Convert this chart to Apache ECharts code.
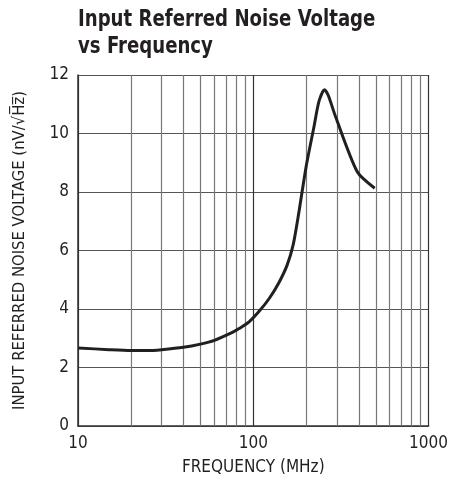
<!DOCTYPE html>
<html><head><meta charset="utf-8">
<script src="https://cdn.jsdelivr.net/npm/echarts@6/dist/echarts.min.js"></script>
<style>html,body{margin:0;padding:0;background:#fff}#c{width:451px;height:487px}</style>
</head><body><div id="c"></div>
<script>
const titleLines = ['Input Referred Noise Voltage', 'vs Frequency'];
const xName = 'FREQUENCY (MHz)';
const yName = 'INPUT REFERRED NOISE VOLTAGE (nV/\u221AH\u0305z\u0305)';
const freq = [10, 15, 20, 25, 30, 40, 50, 60, 76, 83, 95, 108, 123, 140, 156, 169, 182, 200, 222, 237, 255, 268, 295, 392, 493];
const noise = [2.67, 2.61, 2.58, 2.58, 2.61, 2.69, 2.80, 2.93, 3.20, 3.33, 3.57, 3.92, 4.35, 4.9, 5.5, 6.2, 7.3, 8.85, 10.23, 11.1, 11.5, 11.3, 10.57, 8.69, 8.13];
const minorGridX = [20, 30, 40, 50, 60, 70, 80, 90, 200, 300, 400, 500, 600, 700, 800, 900];
const yTicks = { min: 0, max: 12, interval: 2 };
const xRange = { min: 10, max: 1000 };

const FONT = '"DejaVu Sans Condensed", "Liberation Sans", sans-serif';
const chart = echarts.init(document.getElementById('c'), null, { renderer: 'canvas' });
chart.setOption({
  animation: false,
  backgroundColor: '#fff',
  graphic: [{
    type: 'text', x: 78, y: 7, scaleX: 0.876, scaleY: 1,
    style: {
      text: titleLines.join('\n'),
      fontFamily: FONT, fontWeight: 'bold', fontSize: 23, lineHeight: 27,
      fill: '#231f20', align: 'left', verticalAlign: 'top'
    }
  }],
  grid: { left: 78, right: 21, top: 75, bottom: 61, containLabel: false },
  xAxis: {
    type: 'log', logBase: 10, min: xRange.min, max: xRange.max,
    name: xName, nameLocation: 'middle', nameGap: 33,
    nameTextStyle: { fontFamily: FONT, fontSize: 17, color: '#231f20' },
    axisLine: { show: true, lineStyle: { color: '#333', width: 1.5 } },
    axisTick: { show: false },
    axisLabel: { fontFamily: FONT, fontSize: 17, color: '#231f20', margin: 9, formatter: v => String(Math.round(v)) },
    splitLine: { show: true, lineStyle: { color: '#333', width: 1.2 } }
  },
  yAxis: {
    type: 'value', min: yTicks.min, max: yTicks.max, interval: yTicks.interval,
    name: yName, nameLocation: 'middle', nameGap: 50, nameRotate: 90,
    nameTextStyle: { fontFamily: FONT, fontSize: 16.5, color: '#231f20' },
    axisLine: { show: true, lineStyle: { color: '#333', width: 1.5 } },
    axisTick: { show: false },
    axisLabel: { fontFamily: FONT, fontSize: 17, color: '#231f20', margin: 9 },
    splitLine: { show: true, lineStyle: { color: '#555', width: 1.2 } }
  },
  series: [{
    type: 'line',
    data: freq.map((f, i) => [f, noise[i]]),
    smooth: 0.25,
    symbol: 'none',
    lineStyle: { color: '#231f20', width: 3 },
    z: 5,
    markLine: {
      silent: true, symbol: 'none', label: { show: false },
      lineStyle: { color: '#777', width: 1.2, type: 'solid' },
      data: minorGridX.map(v => ({ xAxis: v }))
    }
  }]
});
</script></body></html>
